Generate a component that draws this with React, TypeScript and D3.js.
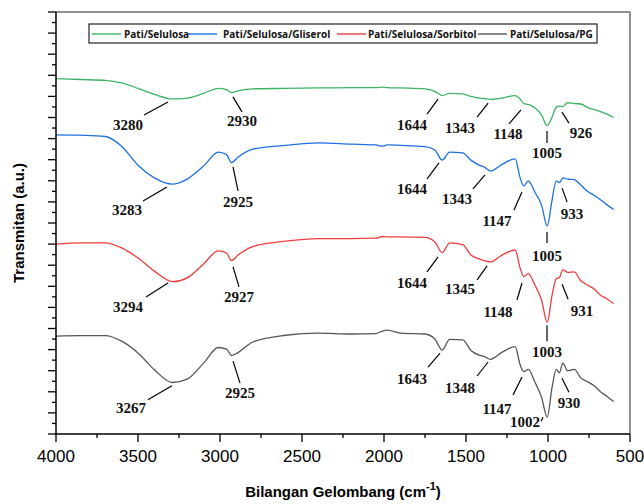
import React from 'react';
import * as d3 from 'd3';

// FTIR spectra, wavenumber in cm-1, transmittance in arbitrary units (stacked)
const wavenumbers = [
  4000, 3850, 3700, 3600, 3500, 3400, 3290, 3200, 3100, 3010, 2960, 2930, 2890, 2800,
  2600, 2400, 2200, 2050, 2010, 1980, 1900, 1750, 1690, 1645, 1600, 1520, 1470, 1420,
  1390, 1350, 1280, 1200, 1170, 1148, 1120, 1080, 1040, 1005, 975, 950, 930, 910, 880,
  840, 800, 760, 720, 680, 640, 600,
];

const patiSelulosa = [
  84.2, 84.0, 83.8, 83.2, 81.9, 80.5, 79.4, 79.6, 80.7, 81.9, 81.6, 80.9, 81.3, 81.8,
  81.9, 82.0, 82.1, 82.1, 82.2, 82.1, 82.0, 81.8, 81.2, 80.2, 80.7, 80.6, 80.0, 79.6,
  79.5, 79.3, 79.6, 80.2, 79.4, 78.3, 78.1, 77.3, 75.6, 73.1, 75.1, 77.4, 77.7, 77.6, 78.5,
  78.3, 78.2, 77.4, 76.9, 76.4, 75.8, 75.0,
];

const patiSelulosaGliserol = [
  70.9, 70.8, 70.5, 68.2, 63.7, 60.7, 59.2, 60.4, 63.5, 66.8, 66.2, 64.3, 65.6, 67.5,
  68.4, 69.0, 68.7, 68.5, 68.2, 68.5, 68.4, 68.1, 67.3, 64.9, 66.8, 66.6, 64.9, 63.7,
  63.3, 62.3, 63.9, 65.2, 60.7, 58.8, 60.0, 57.3, 54.3, 49.3, 55.5, 60.0, 59.6, 60.7, 60.4,
  60.3, 59.0, 57.5, 56.6, 55.5, 54.3, 53.2,
];

const patiSelulosaSorbitol = [
  45.0, 45.3, 45.3, 44.1, 41.7, 38.6, 36.1, 37.0, 40.3, 43.4, 42.9, 41.1, 42.4, 44.4,
  45.7, 46.3, 46.3, 46.4, 46.8, 46.7, 46.7, 46.6, 45.5, 43.0, 45.3, 44.9, 42.4, 41.5,
  41.1, 40.8, 42.4, 43.6, 39.3, 37.3, 38.0, 35.3, 31.8, 26.5, 32.9, 36.8, 37.1, 38.9, 38.3,
  38.4, 36.3, 35.3, 34.4, 32.9, 32.0, 30.9,
];

const patiSelulosaPG = [
  23.2, 23.3, 23.3, 22.0, 19.2, 15.2, 12.2, 13.0, 16.8, 20.5, 20.1, 18.6, 19.3, 21.8,
  23.4, 23.9, 23.7, 23.8, 24.4, 24.6, 23.9, 23.7, 22.5, 19.9, 22.4, 22.3, 19.8, 18.7,
  18.4, 17.7, 19.4, 20.7, 16.4, 14.8, 15.3, 12.3, 8.8, 4.0, 11.1, 15.3, 14.5, 16.8, 15.0,
  15.3, 13.3, 12.4, 11.5, 10.0, 8.9, 7.7,
];

const seriesNames = ['Pati/Selulosa', 'Pati/Selulosa/Gliserol', 'Pati/Selulosa/Sorbitol', 'Pati/Selulosa/PG'];
const seriesColors = ['#3cb464', '#1f6fe4', '#f03c3c', '#555555'];
const seriesValues = [patiSelulosa, patiSelulosaGliserol, patiSelulosaSorbitol, patiSelulosaPG];

const xTicks = [4000, 3500, 3000, 2500, 2000, 1500, 1000, 500];

// peak labels: text, label position (wavenumber, value), leader line offsets from label centre (px)
const peakLabels = [
  '3280', '2930', '1644', '1343', '1148', '1005', '926',
  '3283', '2925', '1644', '1343', '1147', '1005', '933',
  '3294', '2927', '1644', '1345', '1148', '1003', '931',
  '3267', '2925', '1643', '1348', '1147', '1002', '930',
];
const peakLabelWn = [
  3561, 2866, 1829, 1536, 1244, 1006, 799,
  3567, 2890, 1829, 1555, 1311, 1006, 853,
  3561, 2884, 1829, 1536, 1305, 1006, 792,
  3543, 2878, 1829, 1536, 1311, 1140, 872,
];
const peakLabelV = [
  73.2, 74.2, 73.2, 72.5, 71.1, 66.6, 71.3,
  53.1, 55.0, 58.1, 55.7, 50.5, 42.2, 52.1,
  30.1, 32.5, 35.8, 34.4, 28.9, 19.4, 29.1,
  6.2, 9.7, 13.0, 10.9, 5.9, 2.8, 7.3,
];
const leaderOffsets = [
  [16, -10, 40, -23], [-9, -24, 0, -9], [26, -26, 15, -11], [28, -25, 17, -11], [13, -24, 1, -10], [0, -22, 0, -10], [-19, -21, -12, -10],
  [16, -9, 40, -23], [-5, -35, 0, -11], [27, -26, 15, -10], [28, -24, 16, -10], [25, -29, 17, -11], [0, -24, 0, -13], [-10, -26, -5, -12],
  [18, -10, 40, -24], [-6, -30, 0, -10], [26, -26, 15, -11], [27, -23, 17, -9], [24, -29, 19, -12], [0, -27, 0, -11], [-20, -27, -14, -12],
  [17, -8, 41, -22], [-7, -32, 0, -10], [28, -26, 16, -12], [28, -26, 17, -12], [25, -32, 16, -14], [16, -1, 18, -5], [-7, -25, 0, -11],
];

const W = 644;
const H = 504;
const left = 56;
const right = 630;
const top = 12;
const bottom = 434;

export default function App() {
  const x = d3.scaleLinear().domain([4000, 500]).range([left, right]);
  const y = d3.scaleLinear().domain([0, 100]).range([bottom, top]);

  const line = d3
    .line<number>()
    .x((_, i) => x(wavenumbers[i]))
    .y((d) => y(d))
    .curve(d3.curveMonotoneX);

  const xMinor = d3.range(4000, 499, -250).filter((t) => t % 500 !== 0);
  const yMajor = d3.range(0, 100.1, 5);
  const yMinor = d3.range(2.5, 100, 5);

  const legendLineX = [92, 188, 337, 478];
  const legendTextX = [124, 223, 368, 510];

  return (
    <svg width={W} height={H} style={{ position: 'absolute', left: 0, top: 0 }}>
      <rect x={0} y={0} width={W} height={H} fill="#fff" />

      {/* frame */}
      <line x1={left} y1={top} x2={right} y2={top} stroke="#222" strokeWidth={1} />
      <line x1={right} y1={top} x2={right} y2={bottom} stroke="#777" strokeWidth={1.6} />

      {/* series */}
      {seriesValues.map((vals, i) => (
        <path key={i} d={line(vals) || ''} fill="none" stroke={seriesColors[i]} strokeWidth={1.3} />
      ))}

      {/* y axis */}
      <line x1={left} y1={top} x2={left} y2={bottom + 0.5} stroke="#000" strokeWidth={1.5} />
      {yMajor.map((t) => (
        <line key={'ym' + t} x1={left - 8} x2={left} y1={y(t)} y2={y(t)} stroke="#000" strokeWidth={1.3} />
      ))}
      {yMinor.map((t) => (
        <line key={'yn' + t} x1={left - 4} x2={left} y1={y(t)} y2={y(t)} stroke="#000" strokeWidth={1.3} />
      ))}

      {/* x axis */}
      <line x1={left} y1={bottom} x2={right} y2={bottom} stroke="#000" strokeWidth={1.5} />
      {xTicks.map((t) => (
        <g key={'xt' + t}>
          <line x1={x(t)} x2={x(t)} y1={bottom} y2={bottom + 8} stroke="#000" strokeWidth={1.3} />
          <text
            x={x(t)}
            y={462}
            textAnchor="middle"
            fontFamily="Liberation Sans, Arial, sans-serif"
            fontSize={17}
            fill="#000"
          >
            {t}
          </text>
        </g>
      ))}
      {xMinor.map((t) => (
        <line key={'xn' + t} x1={x(t)} x2={x(t)} y1={bottom} y2={bottom + 4} stroke="#000" strokeWidth={1.3} />
      ))}

      {/* axis titles */}
      <text
        x={343}
        y={497}
        textAnchor="middle"
        fontFamily="Liberation Sans, Arial, sans-serif"
        fontWeight="bold"
        fontSize={15}
        fill="#000"
      >
        Bilangan Gelombang (cm
        <tspan dy={-7} fontSize={11}>-1</tspan>
        <tspan dy={7}>)</tspan>
      </text>
      <text
        transform={`translate(24, ${(top + bottom) / 2}) rotate(-90)`}
        textAnchor="middle"
        fontFamily="Liberation Sans, Arial, sans-serif"
        fontWeight="bold"
        fontSize={15}
        fill="#000"
      >
        Transmitan (a.u.)
      </text>

      {/* peak labels */}
      {peakLabels.map((lab, i) => {
        const cx = x(peakLabelWn[i]);
        const cy = y(peakLabelV[i]);
        const [a, b, c, d] = leaderOffsets[i];
        return (
          <g key={'pk' + i}>
            <line x1={cx + a} y1={cy + b} x2={cx + c} y2={cy + d} stroke="#000" strokeWidth={1.2} />
            <text
              x={cx}
              y={cy}
              dy="0.35em"
              textAnchor="middle"
              fontFamily="Liberation Serif, Times New Roman, serif"
              fontWeight="bold"
              fontSize={15}
              fill="#111"
            >
              {lab}
            </text>
          </g>
        );
      })}

      {/* legend */}
      <rect x={89} y={24} width={508} height={19} fill="#fff" stroke="#222" strokeWidth={1.2} />
      {seriesNames.map((name, i) => (
        <g key={'lg' + i}>
          <line
            x1={legendLineX[i]}
            x2={legendLineX[i] + 29}
            y1={34}
            y2={34}
            stroke={seriesColors[i]}
            strokeWidth={1.4}
          />
          <text
            x={legendTextX[i]}
            y={37.5}
            fontFamily="Open Sans, Noto Sans, sans-serif"
            fontWeight="bold"
            fontSize={10}
            fill="#111"
          >
            {name}
          </text>
        </g>
      ))}
    </svg>
  );
}
